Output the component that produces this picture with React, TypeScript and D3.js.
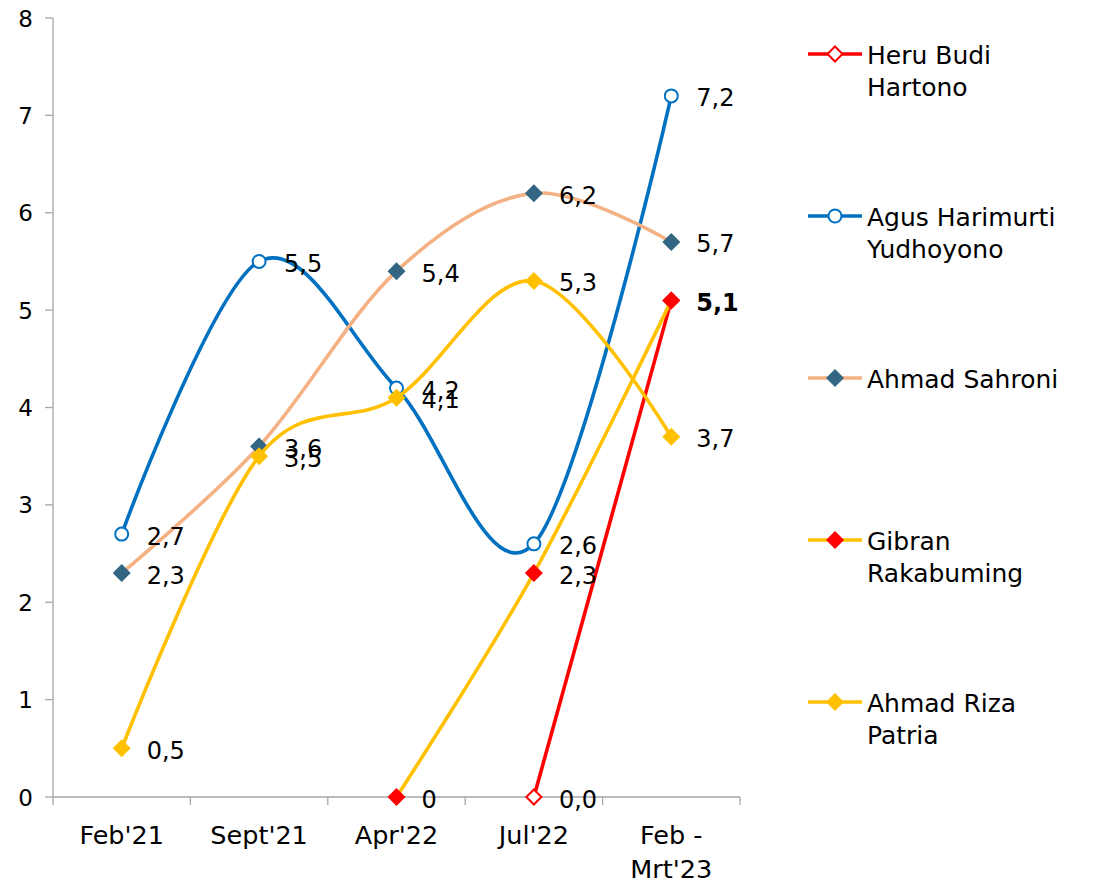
import React from "react";
import * as d3 from "d3";

const categories = ["Feb'21", "Sept'21", "Apr'22", "Jul'22", "Feb - Mrt'23"];
const categoryLines = [["Feb'21"], ["Sept'21"], ["Apr'22"], ["Jul'22"], ["Feb -", "Mrt'23"]];
const yTicks = [0, 1, 2, 3, 4, 5, 6, 7, 8];

const heruValues: (number | null)[] = [null, null, null, 0, 5.1];
const agusValues: (number | null)[] = [2.7, 5.5, 4.2, 2.6, 7.2];
const sahroniValues: (number | null)[] = [2.3, 3.6, 5.4, 6.2, 5.7];
const gibranValues: (number | null)[] = [null, null, 0, 2.3, 5.1];
const rizaValues: (number | null)[] = [0.5, 3.5, 4.1, 5.3, 3.7];

const heruLabels: (string | null)[] = [null, null, null, "0,0", "5,1"];
const agusLabels: (string | null)[] = ["2,7", "5,5", "4,2", "2,6", "7,2"];
const sahroniLabels: (string | null)[] = ["2,3", "3,6", "5,4", "6,2", "5,7"];
const gibranLabels: (string | null)[] = [null, null, "0", "2,3", null];
const rizaLabels: (string | null)[] = ["0,5", "3,5", "4,1", "5,3", "3,7"];

const seriesNames = [
  ["Heru Budi", "Hartono"],
  ["Agus Harimurti", "Yudhoyono"],
  ["Ahmad Sahroni"],
  ["Gibran", "Rakabuming"],
  ["Ahmad Riza", "Patria"],
];

type Series = {
  name: string[];
  values: (number | null)[];
  labels: (string | null)[];
  line: string;
  marker: "circle" | "diamond";
  markerFill: string;
  markerStroke: string;
  smooth: boolean;
  boldIdx?: number;
};

const series: Series[] = [
  { name: seriesNames[0], values: heruValues, labels: heruLabels, line: "#FF0000", marker: "diamond", markerFill: "#FFFFFF", markerStroke: "#FF0000", smooth: false, boldIdx: 4 },
  { name: seriesNames[1], values: agusValues, labels: agusLabels, line: "#0070C0", marker: "circle", markerFill: "#FFFFFF", markerStroke: "#0070C0", smooth: true },
  { name: seriesNames[2], values: sahroniValues, labels: sahroniLabels, line: "#F4B183", marker: "diamond", markerFill: "#336683", markerStroke: "#336683", smooth: true },
  { name: seriesNames[3], values: gibranValues, labels: gibranLabels, line: "#FFC000", marker: "diamond", markerFill: "#FF0000", markerStroke: "#FF0000", smooth: true },
  { name: seriesNames[4], values: rizaValues, labels: rizaLabels, line: "#FFC000", marker: "diamond", markerFill: "#FFC000", markerStroke: "#FFC000", smooth: true },
];

const W = 1093;
const H = 885;
const FONT = "'DejaVu Sans', sans-serif";

function Marker({ s, cx, cy }: { s: Series; cx: number; cy: number }) {
  if (s.marker === "circle") {
    return <circle cx={cx} cy={cy} r={6.5} fill={s.markerFill} stroke={s.markerStroke} strokeWidth={2} />;
  }
  const open = s.markerFill === "#FFFFFF";
  const r = open ? 7.5 : 9;
  const pts = [
    [cx, cy - r],
    [cx + r, cy],
    [cx, cy + r],
    [cx - r, cy],
  ];
  return (
    <polygon
      points={pts.map((p) => p.join(",")).join(" ")}
      fill={s.markerFill}
      stroke={s.markerStroke}
      strokeWidth={open ? 2 : 0}
    />
  );
}

export default function App() {
  const x = d3.scaleBand<string>().domain(categories).range([53, 740]);
  const y = d3.scaleLinear().domain([0, 8]).range([797, 18]);
  const cx = (i: number) => (x(categories[i]) as number) + x.bandwidth() / 2;

  const mkLine = (smooth: boolean) =>
    d3
      .line<number | null>()
      .defined((d) => d != null)
      .x((_, i) => cx(i))
      .y((d) => y(d as number))
      .curve(smooth ? d3.curveCardinal.tension(0) : d3.curveLinear);

  const legendY = d3.scalePoint<number>().domain([0, 1, 2, 3, 4]).range([54, 702]);

  return (
    <svg width={W} height={H} style={{ position: "absolute", left: 0, top: 0, background: "#fff" }} fontFamily={FONT}>
      <rect width={W} height={H} fill="#fff" />
      {/* Y axis */}
      <line x1={53} x2={53} y1={y(8)} y2={y(0)} stroke="#A6A6A6" strokeWidth={1.3} />
      {yTicks.map((t) => (
        <g key={t}>
          <line x1={45} x2={53} y1={y(t)} y2={y(t)} stroke="#A6A6A6" strokeWidth={1.3} />
          <text x={33} y={y(t) + 8.5} textAnchor="end" fontSize={23} fill="#000">
            {t}
          </text>
        </g>
      ))}
      {/* X axis */}
      <line x1={53} x2={740} y1={y(0)} y2={y(0)} stroke="#A6A6A6" strokeWidth={1.3} />
      {categories.map((c) => (
        <line key={c} x1={x(c) as number} x2={x(c) as number} y1={y(0)} y2={y(0) + 8} stroke="#A6A6A6" strokeWidth={1.3} />
      ))}
      <line x1={740} x2={740} y1={y(0)} y2={y(0) + 8} stroke="#A6A6A6" strokeWidth={1.3} />
      {categoryLines.map((lines, i) => (
        <text key={i} x={cx(i)} textAnchor="middle" fontSize={25.5} fill="#000">
          {lines.map((l, j) => (
            <tspan key={j} x={cx(i)} y={844 + j * 34}>
              {l}
            </tspan>
          ))}
        </text>
      ))}
      {/* Series */}
      {series.map((s, si) => (
        <g key={si}>
          <path d={mkLine(s.smooth)(s.values) || ""} fill="none" stroke={s.line} strokeWidth={3.6} strokeLinejoin="round" />
          {s.values.map((v, i) => (v == null ? null : <Marker key={i} s={s} cx={cx(i)} cy={y(v)} />))}
        </g>
      ))}
      {/* Labels */}
      {series.map((s, si) => (
        <g key={"l" + si}>
          {s.values.map((v, i) =>
            v == null || s.labels[i] == null ? null : (
              <text
                key={i}
                x={cx(i) + 25}
                y={y(v) + 10.5}
                fontSize={24}
                fontWeight={s.boldIdx === i ? "bold" : "normal"}
                fill="#000"
              >
                {s.labels[i]}
              </text>
            )
          )}
        </g>
      ))}
      {/* Legend */}
      {series.map((s, si) => {
        const ly = legendY(si) as number;
        return (
          <g key={"lg" + si}>
            <line x1={808} x2={862} y1={ly} y2={ly} stroke={s.line} strokeWidth={3.6} />
            <Marker s={s} cx={835} cy={ly} />
            <text fontSize={25} fill="#000">
              {s.name.map((n, j) => (
                <tspan key={j} x={867} y={ly + 9.5 + j * 32}>
                  {n}
                </tspan>
              ))}
            </text>
          </g>
        );
      })}
    </svg>
  );
}
